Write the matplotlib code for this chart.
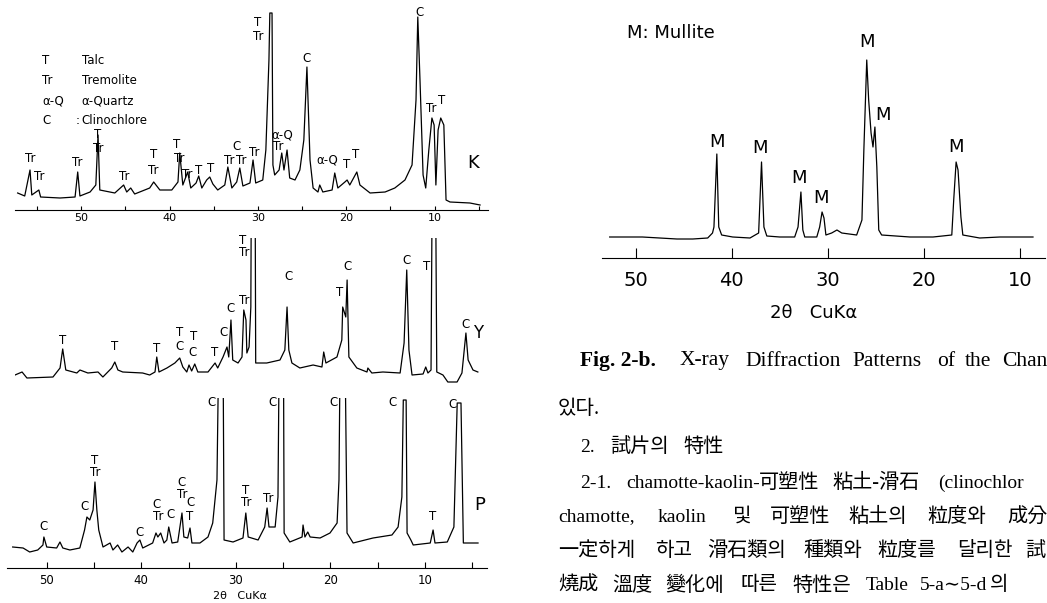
import matplotlib.pyplot as plt

W, H = 1047, 603

# --- sample K (talc / tremolite / clinochlore), 2theta in degrees, counts arbitrary
k_deg = [57.2, 56.4, 55.8, 55.6, 54.8, 54.6, 52.4, 50.7, 50.4, 50.15, 49.0, 48.35, 48.1, 47.9,
         46.2, 45.2, 44.85, 44.4, 43.95, 42.25, 41.8, 41.1, 39.75, 39.05, 38.85, 38.5, 37.95,
         37.6, 37.0, 36.7, 36.35, 35.8, 35.45, 35.1, 34.55, 33.75, 33.4, 32.95, 32.4, 32.05,
         31.7, 30.9, 30.55, 30.25, 29.45, 29.1, 28.75, 28.65, 28.4, 28.3, 28.1, 27.6, 27.3,
         27.05, 26.7, 26.4, 25.8, 25.25, 24.8, 24.45, 24.1, 23.75, 23.2, 23.0, 22.65, 21.6,
         21.3, 20.95, 20.15, 19.9, 19.6, 18.8, 18.45, 17.3, 15.6, 14.5, 13.35, 12.55, 12.1,
         11.9, 11.65, 11.3, 11.0, 10.65, 10.3, 10.05, 9.85, 9.6, 9.3, 8.95, 8.7, 8.25, 6.0, 4.85]
k_int = [17, 14, 40, 15, 20, 13, 12, 13, 38, 14, 18, 25, 75, 20,
         17, 25, 18, 22, 16, 22, 28, 20, 20, 28, 57, 25, 38,
         22, 27, 34, 22, 30, 33, 26, 20, 25, 43, 22, 28, 42,
         24, 27, 50, 27, 30, 60, 150, 197, 197, 45, 35, 40, 57,
         40, 60, 32, 30, 40, 70, 143, 50, 22, 18, 25, 18, 20,
         37, 22, 28, 30, 25, 38, 25, 17, 18, 22, 30, 45, 110,
         193, 130, 35, 22, 60, 92, 85, 25, 80, 92, 85, 10, 8, 7, 5]

# --- sample Y
y_deg = [57.5, 56.7, 56.15, 53.2, 52.4, 52.1, 51.75, 50.5, 50.15, 49.25, 48.1, 47.55, 46.55,
         46.2, 45.85, 45.3, 43.05, 42.25, 41.65, 41.45, 41.2, 40.3, 39.4, 38.85, 38.5, 38.05,
         37.8, 37.5, 37.15, 36.8, 35.65, 34.85, 34.55, 33.95, 33.5, 33.3, 33.05, 32.85, 32.25,
         31.8, 31.6, 31.35, 31.25, 31.0, 30.8, 30.7, 30.35, 30.25, 29.0, 27.5, 26.95, 26.7,
         26.5, 26.15, 25.25, 23.75, 22.75, 22.55, 22.3, 21.05, 20.5, 20.4, 20.05, 19.9, 19.7,
         18.8, 17.65, 17.55, 17.1, 15.85, 13.9, 13.45, 13.15, 12.9, 12.55, 11.3, 11.0, 10.75,
         10.4, 10.2, 9.95, 9.75, 9.05, 8.5, 7.45, 6.9, 6.45, 6.2, 5.65, 5.1]
y_int = [15, 18, 12, 13, 22, 41, 20, 17, 20, 17, 18, 13, 22,
         28, 20, 18, 17, 15, 18, 33, 18, 22, 27, 32, 23, 18,
         25, 19, 26, 18, 18, 27, 22, 33, 43, 33, 70, 30, 27,
         33, 80, 70, 37, 43, 83, 300, 300, 27, 27, 30, 40, 83,
         40, 27, 22, 25, 23, 38, 27, 33, 50, 83, 73, 110, 33,
         22, 18, 22, 17, 18, 17, 47, 120, 40, 15, 16, 23, 17,
         20, 300, 300, 18, 15, 8, 8, 17, 57, 30, 20, 18]

# --- sample P
p_deg = [53.6, 52.5, 51.8, 50.95, 50.4, 50.3, 50.0, 48.95, 48.6, 48.3, 47.55, 46.5, 46.0, 45.75,
         45.45, 45.1, 44.9, 44.7, 44.5, 44.05, 43.3, 43.0, 42.5, 42.05, 41.4, 40.9, 40.45,
         40.15, 39.85, 38.8, 38.45, 38.25, 37.95, 37.6, 37.3, 37.1, 36.75, 36.15, 35.7, 35.5,
         35.1, 34.85, 34.65, 33.8, 32.95, 32.45, 32.0, 31.7, 31.4, 31.25, 30.3, 29.25, 28.95,
         28.7, 27.65, 26.95, 26.7, 26.5, 25.85, 25.55, 25.35, 25.0, 24.9, 24.3, 23.0, 22.9,
         22.7, 22.4, 22.15, 21.1, 20.05, 19.3, 19.1, 18.9, 18.55, 18.25, 17.6, 15.5, 13.5,
         12.85, 12.45, 12.3, 12.0, 11.9, 11.5, 11.25, 9.45, 9.15, 8.95, 7.65, 6.95, 6.6, 6.2,
         5.95, 4.4]
p_int = [21, 20, 16, 18, 23, 31, 21, 20, 26, 20, 18, 20, 38, 51,
         48, 58, 86, 58, 38, 21, 25, 18, 23, 16, 21, 16, 25,
         28, 20, 25, 35, 31, 35, 25, 28, 41, 25, 26, 55, 31,
         30, 40, 25, 25, 31, 45, 88, 300, 300, 28, 26, 30, 55,
         31, 28, 41, 60, 41, 41, 71, 300, 300, 35, 26, 31, 43,
         31, 36, 31, 30, 35, 45, 88, 300, 300, 35, 25, 30, 33,
         41, 71, 168, 168, 35, 28, 23, 25, 38, 25, 26, 41, 165, 165,
         25, 25]

# --- fired body, mullite
m_deg = [52.7, 49.3, 47.5, 45.7, 44.05, 42.5, 42.0, 41.85, 41.55, 41.35, 41.05, 39.9, 38.1,
         37.2, 36.9, 36.65, 36.35, 35.0, 33.45, 33.1, 32.8, 32.6, 32.4, 31.15, 30.85, 30.6,
         30.4, 30.2, 29.6, 29.05, 28.55, 27.0, 26.45, 26.25, 25.95, 25.75, 25.5, 25.3, 25.1,
         24.9, 24.7, 24.4, 21.45, 19.05, 17.1, 16.9, 16.65, 16.45, 16.15, 15.95, 14.2, 12.1, 8.65]
m_int = [21, 21, 20, 19, 19, 20, 25, 31, 104, 31, 23, 21, 20,
         25, 96, 31, 22, 21, 21, 31, 66, 28, 21, 21, 31, 46,
         40, 23, 25, 28, 25, 23, 38, 108, 198, 158, 125, 111, 131,
         91, 28, 23, 21, 21, 23, 58, 96, 88, 41, 23, 20, 21, 21]

# peak labels: (2theta, height, text)
k_labels = [(30.0, 187, "T"), (30.0, 174, "Tr"), (11.65, 197, "C"), (24.45, 152, "C"),
            (55.8, 52, "Tr"), (54.8, 33, "Tr"), (50.4, 47, "Tr"), (48.1, 76, "T"), (48.1, 62, "Tr"),
            (45.1, 33, "Tr"), (41.8, 55, "T"), (41.8, 40, "Tr"), (39.2, 65, "T"), (38.85, 51, "Tr"),
            (37.95, 35, "Tr"), (36.7, 40, "T"), (35.3, 42, "T"), (33.3, 49, "Tr"), (32.4, 63, "C"),
            (31.9, 49, "Tr"), (30.45, 58, "Tr"), (27.2, 75, "α-Q"), (27.75, 63, "Tr"),
            (22.1, 50, "α-Q"), (19.9, 45, "T"), (18.9, 55, "T"), (10.4, 102, "Tr"), (9.15, 110, "T")]
y_labels = [(52.1, 50, "T"), (46.2, 43, "T"), (41.45, 42, "T"), (38.85, 57, "T"), (38.85, 44, "C"),
            (37.25, 53, "T"), (37.35, 38, "C"), (34.85, 37, "T"), (33.95, 57, "C"), (33.05, 82, "C"),
            (31.6, 90, "Tr"), (31.7, 149, "T"), (31.5, 137, "Tr"), (26.5, 113, "C"), (20.7, 97, "T"),
            (19.8, 123, "C"), (13.15, 130, "C"), (10.85, 123, "T"), (6.55, 65, "C")]
p_labels = [(50.3, 41, "C"), (46.0, 61, "C"), (44.9, 108, "T"), (44.9, 95, "Tr"), (40.15, 36, "C"),
            (38.35, 63, "C"), (38.25, 51, "Tr"), (36.95, 53, "C"), (35.7, 86, "C"), (35.7, 73, "Tr"),
            (34.85, 65, "C"), (34.85, 51, "T"), (32.55, 166, "C"), (28.95, 78, "T"), (28.95, 66, "Tr"),
            (26.6, 70, "Tr"), (26.1, 165, "C"), (19.7, 165, "C"), (13.4, 166, "C"), (9.15, 51, "T"),
            (7.15, 163, "C")]
m_labels = [(41.55, 116), (37.1, 110), (33.0, 80), (30.7, 60), (25.95, 216), (24.3, 143), (16.65, 111)]

legend_codes = ["T", "Tr", "α-Q", "C"]
legend_names = ["Talc", "Tremolite", "α-Quartz", "Clinochlore"]

# caption: (x px, word)
caption_words = [(680, "X-ray"), (745, "Diffraction"), (852, "Patterns"), (937, "of"),
                 (965, "the"), (1002, "Chan")]
# body text, one list of (x px, word) per line, with its y px
body_lines = [
    (409, [(558, "있다.")]),
    (447, [(580, "2."), (610, "試片의"), (683, "特性")]),
    (483, [(580, "2-1."), (626, "chamotte-kaolin-"), (759, "可塑性"), (832, "粘土-滑石"),
           (938, "(clinochlor")]),
    (517, [(558, "chamotte,"), (658, "kaolin"), (733, "및"), (770, "可塑性"), (848, "粘土의"),
           (927, "粒度와"), (1007, "成分")]),
    (551, [(558, "一定하게"), (655, "하고"), (707, "滑石類의"), (803, "種類와"), (877, "粒度를"),
           (957, "달리한"), (1025, "試")]),
    (586, [(558, "燒成"), (612, "溫度"), (665, "變化에"), (740, "따른"), (792, "特性은"),
           (866, "Table"), (920, "5-a∼5-d"), (990, "의")]),
]

fig = plt.figure(figsize=(W / 100, H / 100), dpi=100)
fig.patch.set_facecolor("white")


def px_axes(left, top, right, bottom):
    return fig.add_axes([left / W, 1 - bottom / H, (right - left) / W, (bottom - top) / H])


def style(ax, xlim, ylim, show_axis=True):
    ax.set_xlim(*xlim)
    ax.set_ylim(*ylim)
    ax.patch.set_alpha(0)
    for s in ["left", "right", "top"]:
        ax.spines[s].set_visible(False)
    ax.set_yticks([])
    if not show_axis:
        ax.spines["bottom"].set_visible(False)
        ax.set_xticks([])


lab_font = dict(fontsize=8.5, ha="center", va="center", clip_on=False, family="DejaVu Sans")

# K
axk = px_axes(15, 0, 488, 210)
style(axk, (57.5, 3.95), (0, 210))
axk.plot(k_deg, k_int, color="black", lw=0.9)
axk.set_xticks([50, 40, 30, 20, 10])
axk.set_xticks([55, 45, 35, 25, 15, 5], minor=True)
axk.tick_params(axis="x", direction="in", length=3, width=0.8, labelsize=8, pad=2)
axk.tick_params(axis="x", which="minor", direction="in", length=3, width=0.8)
for d, v, t in k_labels:
    axk.text(d, v, t, **lab_font)
axk.text(5.65, 47, "K", fontsize=13, ha="center", va="center")
for i, (c, n) in enumerate(zip(legend_codes, legend_names)):
    yy = 149 - 20 * i
    axk.text(54.4, yy, c, fontsize=8.5, ha="left", va="center")
    axk.text(49.95, yy, n, fontsize=8.5, ha="left", va="center")
axk.text(50.6, 89, ":", fontsize=8.5, ha="left", va="center")

# Y
axy = px_axes(15, 238, 488, 390)
style(axy, (57.5, 3.95), (0, 152), show_axis=False)
axy.plot(y_deg, y_int, color="black", lw=0.9)
for d, v, t in y_labels:
    axy.text(d, v, t, **lab_font)
axy.text(5.1, 57, "Y", fontsize=12, ha="center", va="center")

# P
axp = px_axes(7, 398, 487, 568)
style(axp, (54.2, 3.45), (0, 170))
axp.plot(p_deg, p_int, color="black", lw=0.9)
axp.set_xticks([50, 40, 30, 20, 10])
axp.set_xticks([45, 35, 25, 15, 5], minor=True)
axp.tick_params(axis="x", direction="in", length=4, width=0.8, labelsize=8.5, pad=4)
axp.tick_params(axis="x", which="minor", direction="in", length=4, width=0.8)
for d, v, t in p_labels:
    axp.text(d, v, t, **lab_font)
axp.text(4.2, 63, "P", fontsize=13, ha="center", va="center")
axp.text(29.6, -28, "2θ   CuKα", fontsize=8, ha="center", va="center", clip_on=False)

# Mullite
axm = px_axes(602, 20, 1045, 258)
style(axm, (53.5, 7.4), (0, 238))
axm.plot(m_deg, m_int, color="black", lw=0.9)
axm.set_xticks([50, 40, 30, 20, 10])
axm.tick_params(axis="x", direction="in", length=7, width=0.8, labelsize=14, pad=9)
for d, v in m_labels:
    axm.text(d, v, "M", fontsize=13, ha="center", va="center", clip_on=False)
axm.text(50.85, 225, "M: Mullite", fontsize=13, ha="left", va="center")
axm.text(31.45, -55, "2θ   CuKα", fontsize=13, ha="center", va="center", clip_on=False)

# caption and body text
serif = ["Liberation Serif", "Noto Sans CJK KR", "DejaVu Serif"]
fig.text(580 / W, 1 - 361 / H, "Fig. 2-b.", fontsize=15.5, fontweight="bold", family=serif,
         ha="left", va="center")
for x, t in caption_words:
    fig.text(x / W, 1 - 361 / H, t, fontsize=15.5, family=serif, ha="left", va="center")


def has_cjk(word):
    return any(ord(ch) > 0x2E80 for ch in word)


for y, words in body_lines:
    for x, t in words:
        size = 14.5 if has_cjk(t) else 14
        fig.text(x / W, 1 - y / H, t, fontsize=size, family=serif, ha="left", va="center")

fig.savefig("out.png", dpi=100)
